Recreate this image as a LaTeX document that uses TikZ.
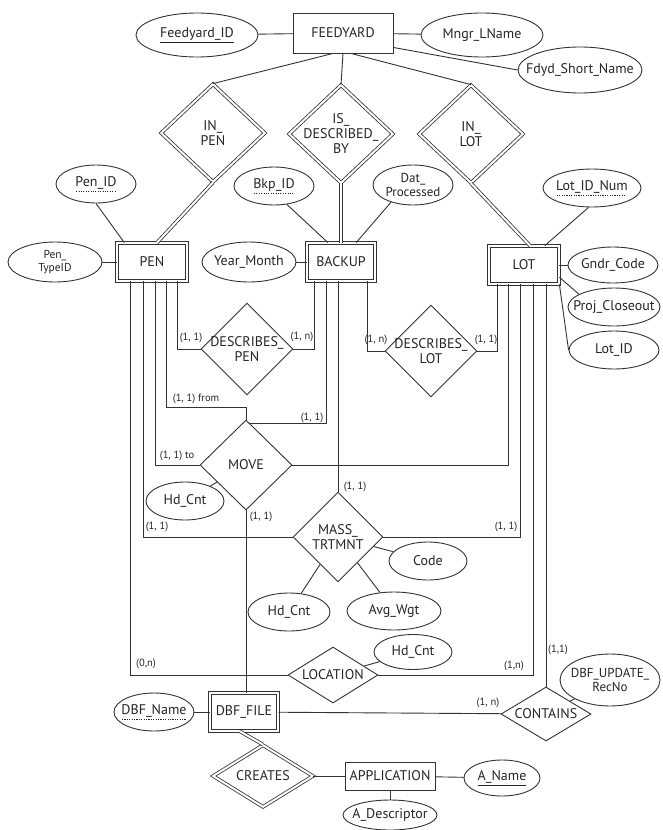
\documentclass[tikz,border=0pt]{standalone}
\usepackage{fontspec}
\setmainfont{PT Sans}
\usetikzlibrary{shapes.geometric,calc}

% solid key underline and dotted partial-key underline
\newcommand{\keyul}[1]{\setbox0\hbox{#1}\leavevmode\vtop{\offinterlineskip\copy0\kern1.2pt\hrule width\wd0 height0.7pt}}
\newcommand{\partkeyul}[1]{\setbox0\hbox{#1}\leavevmode\vtop{\offinterlineskip\copy0\kern1.4pt\hbox to\wd0{\leaders\hbox to 2.4pt{\hss\vrule width1.1pt height0.7pt\hss}\hfill}}}

\begin{document}
\begin{tikzpicture}[x=1pt,y=-1pt,
  ink/.style={draw=black!80, line width=0.9pt},
  txt/.style={font=\fontsize{14}{15}\selectfont, text=black!85},
  entity/.style={ink, txt, rectangle, minimum height=38pt, inner sep=0pt},
  weak/.style={entity, double, double distance=2.2pt, line width=0.8pt},
  attr/.style={ink, ellipse, inner sep=0pt},
  rel/.style={ink, diamond, inner sep=0pt},
  idrel/.style={rel, double, double distance=2pt, line width=0.8pt},
  intext/.style={txt, align=center, inner sep=0pt},
  says/.style={label={[intext]center:#1}},
  smallsays/.style={label={[intext, font=\fontsize{13}{14}\selectfont]center:#1}},
  tinysays/.style={label={[intext, font=\fontsize{11.5}{12.5}\selectfont]center:#1}},
  card/.style={font=\fontsize{10.5}{11}\selectfont, text=black!85, inner sep=0pt},
  link/.style={ink},
  idlink/.style={draw=black!80, double, double distance=2pt, line width=0.8pt}
]
\useasboundingbox[fill=white] (0,0) rectangle (662,830);

% ---------- FEEDYARD and its attributes ----------
\node[entity, minimum width=100pt, minimum height=40pt] (fy) at (343,33) {FEEDYARD};
\node[attr, minimum width=122pt, minimum height=44pt, says={\keyul{Feedyard\_ID}}] (fid) at (197,35) {};
\node[attr, minimum width=122pt, minimum height=44pt, says={Mngr\_LName}] (mngr) at (482,35) {};
\node[attr, minimum width=124pt, minimum height=46pt, says={Fdyd\_Short\_Name}] (fsn) at (580,70) {};

% ---------- identifying relationships under FEEDYARD ----------
\node[idrel, minimum width=104pt, minimum height=98pt, says={IN\_\\PEN}] (inpen) at (213,133) {};
\node[idrel, minimum width=104pt, minimum height=98pt, says={IS\_\\DESCRIBED\_\\BY}] (isdb) at (341,134) {};
\node[idrel, minimum width=104pt, minimum height=98pt, says={IN\_\\LOT}] (inlot) at (471,134) {};

% ---------- weak entities PEN, BACKUP, LOT ----------
\node[weak, minimum width=70pt, minimum height=38pt] (pen) at (152,262) {PEN};
\node[weak, minimum width=68pt, minimum height=38pt] (bk) at (341,262) {BACKUP};
\node[weak, minimum width=70pt, minimum height=38pt] (lot) at (524,265) {LOT};

\node[attr, minimum width=80pt, minimum height=38pt, says={\partkeyul{Pen\_ID}}] (penid) at (96,184) {};
\node[attr, minimum width=94pt, minimum height=40pt, tinysays={Pen\_\\TypeID}] (pentype) at (55,262) {};
\node[attr, minimum width=94pt, minimum height=40pt, says={Year\_Month}] (ym) at (249,262) {};
\node[attr, minimum width=80pt, minimum height=38pt, says={\partkeyul{Bkp\_ID}}] (bkid) at (274,186) {};
\node[attr, minimum width=80pt, minimum height=40pt, smallsays={Dat\_\\Processed}] (dat) at (413,185) {};
\node[attr, minimum width=98pt, minimum height=38pt, says={\partkeyul{Lot\_ID\_Num}}] (lotnum) at (592,188) {};
\node[attr, minimum width=90pt, minimum height=36pt, says={Gndr\_Code}] (gndr) at (613,265) {};
\node[attr, minimum width=92pt, minimum height=38pt, says={Proj\_Closeout}] (proj) at (614,307) {};
\node[attr, minimum width=90pt, minimum height=38pt, says={Lot\_ID}] (lotid) at (614,350) {};

% ---------- relationships in the middle ----------
\node[rel, minimum width=92pt, minimum height=92pt, says={DESCRIBES\_\\PEN}] (dpen) at (247,349) {};
\node[rel, minimum width=92pt, minimum height=92pt, says={DESCRIBES\_\\LOT}] (dlot) at (431,351) {};
\node[rel, minimum width=92pt, minimum height=90pt, says={MOVE}] (move) at (246,465) {};
\node[rel, minimum width=90pt, minimum height=90pt, says={MASS\_\\TRTMNT}] (mass) at (338,537) {};
\node[rel, minimum width=90pt, minimum height=56pt, says={LOCATION}] (loc) at (333,675) {};
\node[rel, minimum width=90pt, minimum height=54pt, says={CONTAINS}] (contains) at (546,714) {};

\node[attr, minimum width=78pt, minimum height=38pt, says={Hd\_Cnt}] (hd1) at (185,501) {};
\node[attr, minimum width=78pt, minimum height=38pt, says={Code}] (code) at (428,561) {};
\node[attr, minimum width=82pt, minimum height=38pt, says={Hd\_Cnt}] (hd2) at (289,612) {};
\node[attr, minimum width=94pt, minimum height=38pt, says={Avg\_Wgt}] (avg) at (394,611) {};
\node[attr, minimum width=78pt, minimum height=35pt, says={Hd\_Cnt}] (hd3) at (413,652) {};
\node[attr, minimum width=100pt, minimum height=52pt, smallsays={DBF\_UPDATE\_\\RecNo}] (dbfup) at (610,680) {};

% ---------- DBF_FILE, CREATES, APPLICATION ----------
\node[weak, minimum width=68pt, minimum height=38pt] (dbf) at (244,712) {DBF\_FILE};
\node[attr, minimum width=80pt, minimum height=38pt, says={\partkeyul{DBF\_Name}}] (dbfname) at (154,712) {};
\node[idrel, minimum width=100pt, minimum height=62pt, says={CREATES}] (creates) at (263,776) {};
\node[entity, minimum width=90pt, minimum height=28pt] (app) at (390,776) {APPLICATION};
\node[attr, minimum width=76pt, minimum height=36pt, says={\keyul{A\_Name}}] (aname) at (502,778) {};
\node[attr, minimum width=94pt, minimum height=30pt, says={A\_Descriptor}] (adesc) at (390,815) {};

% ---------- attribute links ----------
\draw[link] (fid) -- (fy);
\draw[link] (fy) -- (mngr);
\draw[link] (fy.-16) -- (fsn.west);
\draw[link] (penid.south) -- (pen.145);
\draw[link] (pentype) -- (pen);
\draw[link] (ym) -- (bk);
\draw[link] (bkid.-55) -- (bk.124);
\draw[link] (dat.218) -- (bk.52);
\draw[link] (lotnum.-100) -- (lot.43);
\draw[link] (lot) -- (gndr);
\draw[link] (lot.-19) -- (proj.160);
\draw[link] (lot.south east) -- (lotid.west);
\draw[link] (hd1) -- (move);
\draw[link] (code) -- (mass);
\draw[link] (hd2) -- (mass);
\draw[link] (avg) -- (mass);
\draw[link] (hd3) -- (loc);
\draw[link] (dbfup) -- (contains);
\draw[link] (dbfname) -- (dbf);
\draw[link] (app) -- (aname);
\draw[link] (app) -- (adesc);

% ---------- FEEDYARD to its relationships ----------
\draw[link] ([xshift=-10pt]fy.south) -- (inpen.north);
\draw[link] (fy.south) -- (isdb.north);
\draw[link] ([xshift=8pt]fy.south) -- (inlot.north);
\draw[idlink] (inpen.south) -- ([xshift=5pt]pen.north);
\draw[idlink] (isdb.south) -- (bk.north);
\draw[idlink] (inlot.south) -- ([xshift=6pt]lot.north);

% ---------- PEN connectors ----------
\draw[link] ([xshift=25pt]pen.south) |- (dpen.west);
\draw[link] ([xshift=14pt]pen.south) |- ([yshift=12pt]move.north) -- (move.north);
\draw[link] ([xshift=3pt]pen.south) |- (move.west);
\draw[link] ([xshift=-9pt]pen.south) |- (mass.west);
\draw[link] ([xshift=-22pt]pen.south) |- (loc.west);

% ---------- BACKUP connectors ----------
\draw[link] ([xshift=-27pt]bk.south) |- (dpen.east);
\draw[link] ([xshift=-15pt]bk.south) |- (move.84);
\draw[link] ([xshift=-3pt]bk.south) -- (mass.north);
\draw[link] ([xshift=26pt]bk.south) |- (dlot.west);

% ---------- LOT connectors ----------
\draw[link] ([xshift=-27pt]lot.south) |- (dlot.east);
\draw[link] ([xshift=-16pt]lot.south) |- (move.east);
\draw[link] ([xshift=-4pt]lot.south) |- (mass.east);
\draw[link] ([xshift=9pt]lot.south) |- (loc.east);
\draw[link] ([xshift=22pt]lot.south) -- (contains.north);

% ---------- lower part ----------
\draw[link] (move.south) -- (move.south |- dbf.north);
\draw[link] (dbf) -- (contains);
\draw[idlink] ([xshift=-4pt]dbf.south) -- (creates.north);
\draw[link] (creates) -- (app);

% ---------- cardinalities ----------
\node[card] (c1) at (191,338) {(1, 1)};
\node[card] (c2) at (302,337) {(1, n)};
\node[card] (c3) at (196,399) {(1, 1) from};
\node[card] (c4) at (312,418) {(1, 1)};
\node[card] (c5) at (177,456) {(1, 1) to};
\node[card] (c6) at (261,517) {(1, 1)};
\node[card] (c7) at (355,487) {(1, 1)};
\node[card] (c8) at (157,527) {(1, 1)};
\node[card] (c9) at (376,340) {(1, n)};
\node[card] (c10) at (486,340) {(1, 1)};
\node[card] (c11) at (506,527) {(1, 1)};
\node[card] (c12) at (146,664) {(0,n)};
\node[card] (c13) at (514,666) {(1,n)};
\node[card] (c14) at (558,650) {(1,1)};
\node[card] (c15) at (488,703) {(1, n)};
\end{tikzpicture}
\end{document}
